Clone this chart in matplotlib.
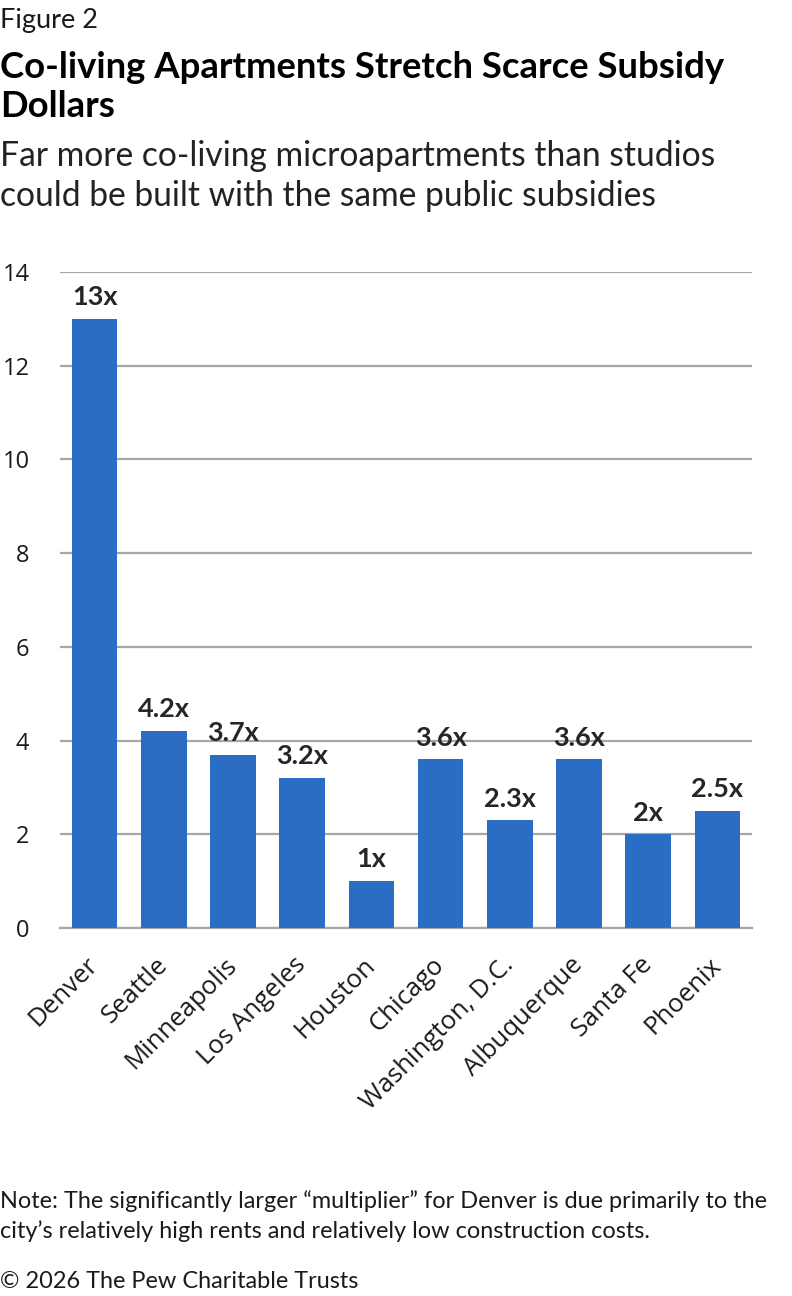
import matplotlib.pyplot as plt

cities = ['Denver', 'Seattle', 'Minneapolis', 'Los Angeles', 'Houston',
          'Chicago', 'Washington, D.C.', 'Albuquerque', 'Santa Fe', 'Phoenix']
multiplier = [13, 4.2, 3.7, 3.2, 1, 3.6, 2.3, 3.6, 2, 2.5]
labels = ['13x', '4.2x', '3.7x', '3.2x', '1x', '3.6x', '2.3x', '3.6x', '2x', '2.5x']
yticks = [0, 2, 4, 6, 8, 10, 12, 14]

bar_color = '#2b6dc4'
grid_color = '#a6a6a6'
tick_font = ['Open Sans', 'DejaVu Sans']

plt.rcParams['font.family'] = ['Lato', 'DejaVu Sans']

fig = plt.figure(figsize=(7.92, 12.96), dpi=100)
H = 1296.0

def ty(px):
    return 1 - px / H

fig.text(0.0, ty(28), 'Figure 2', fontsize=19.5, va='baseline', color='#1a1a1a')
fig.text(0.0, ty(78), 'Co-living Apartments Stretch Scarce Subsidy', fontsize=26.3,
         fontweight='bold', va='baseline', color='black')
fig.text(0.0, ty(117), 'Dollars', fontsize=26.3, fontweight='bold', va='baseline', color='black')
fig.text(0.0, ty(166), 'Far more co-living microapartments than studios', fontsize=24.2,
         va='baseline', color='#222222')
fig.text(0.0, ty(206), 'could be built with the same public subsidies', fontsize=24.2,
         va='baseline', color='#222222')

fig.text(0.0, ty(1208), 'Note: The significantly larger \u201cmultiplier\u201d for Denver is due primarily to the',
         fontsize=16.9, va='baseline', color='#1a1a1a')
fig.text(0.0, ty(1238), 'city\u2019s relatively high rents and relatively low construction costs.',
         fontsize=16.9, va='baseline', color='#1a1a1a')
fig.text(0.0, ty(1288), '\u00a9 2026 The Pew Charitable Trusts', fontsize=16.9,
         va='baseline', color='#1a1a1a')

ax = fig.add_axes([60 / 792, 1 - 928 / H, 692 / 792, (928 - 272) / H])
x = range(len(cities))
bars = ax.bar(x, multiplier, width=0.66, color=bar_color, zorder=3)

for b, lab in zip(bars, labels):
    ax.annotate(lab, (b.get_x() + b.get_width() / 2, b.get_height()),
                xytext=(0, 7), textcoords='offset points', ha='center', va='bottom',
                fontsize=19.5, fontweight='bold', color='#262626')

ax.set_xlim(-0.5, len(cities) - 0.5)
ax.set_ylim(0, 14)
ax.set_yticks(yticks)
ax.set_yticklabels([str(v) for v in yticks], fontsize=17, family=tick_font, color='#1a1a1a')
ax.yaxis.grid(True, color=grid_color, linewidth=1.6, zorder=0)
ax.tick_params(axis='y', length=0, pad=22)
ax.tick_params(axis='x', length=0, pad=24)
ax.set_xticks(list(x))
ax.set_xticklabels(cities, rotation=45, ha='right', va='center', rotation_mode='anchor',
                   fontsize=18.5, family=tick_font, color='#1a1a1a')
for s in ['top', 'right', 'left']:
    ax.spines[s].set_visible(False)
ax.spines['bottom'].set_color(grid_color)
ax.spines['bottom'].set_linewidth(1.6)

fig.savefig('out.png', dpi=100)
